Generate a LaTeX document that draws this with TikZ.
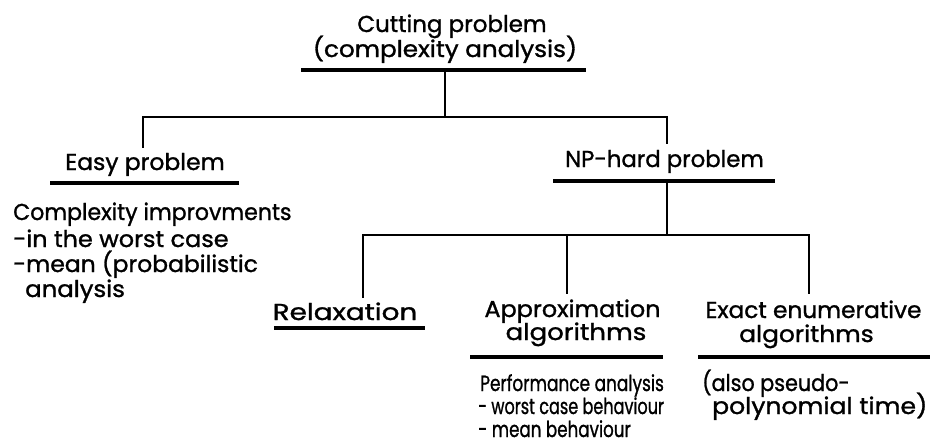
\documentclass[tikz,border=0pt]{standalone}
\usepackage{graphicx}
\usepackage{fontspec}
\setmainfont{Poppins}[FakeBold=1.2]
\newcommand{\sx}[2]{\scalebox{#1}[1]{#2}}
\begin{document}
\begin{tikzpicture}[x=1pt,y=-1pt,
  txt/.style={inner sep=0pt,anchor=base,font=\fontsize{23}{24}\selectfont},
  body/.style={inner sep=0pt,anchor=base west,font=\fontsize{23}{24}\selectfont},
  pbody/.style={body,font=\fontsize{22}{24}\selectfont},
  uline/.style={rectangle,fill=black,inner sep=0pt,minimum height=3.2pt},
  conn/.style={line width=2.2pt,line join=miter,line cap=rect}]
\useasboundingbox (0,0) rectangle (930,445);
% headings
\node[txt] (t1) at (452,32) {\sx{1.00}{Cutting problem}};
\node[txt] (t2) at (445,57) {\sx{1.07}{(complexity analysis)}};
\node[uline,minimum width=285pt] (tul) at (443.5,70) {};
\node[txt] (easy) at (145,170) {\sx{1.02}{Easy problem}};
\node[uline,minimum width=189pt] (eul) at (144.5,183) {};
\node[txt] (np) at (664.5,167) {\sx{0.99}{NP-hard problem}};
\node[uline,minimum width=222pt] (nul) at (664,181) {};
\node[txt] (rel) at (345,320) {\sx{1.21}{Relaxation}};
\node[uline,minimum width=151pt] (rul) at (349.5,328) {};
\node[txt] (ap1) at (572.5,317) {\sx{1.04}{Approximation}};
\node[txt] (ap2) at (576,340) {\sx{1.13}{algorithms}};
\node[uline,minimum width=193pt] (aul) at (566.5,357) {};
\node[txt] (ex1) at (813.5,318) {\sx{1.01}{Exact enumerative}};
\node[txt] (ex2) at (806.5,342) {\sx{1.08}{algorithms}};
\node[uline,minimum width=232pt] (xul) at (814,357) {};
% bodies
\node[body] (e1) at (13,220) {\sx{0.96}{Complexity improvments}};
\node[body] (e2) at (13,247) {\sx{1.04}{-in the worst case}};
\node[body] (e3) at (13,272) {\sx{1.02}{-mean (probabilistic}};
\node[body] (e4) at (25,297) {\sx{1.06}{analysis}};
\node[pbody] (p1) at (480,391) {\sx{0.77}{Performance analysis}};
\node[pbody] (p2) at (478,414) {\sx{0.73}{- worst case behaviour}};
\node[pbody] (p3) at (478,437) {\sx{0.76}{- mean behaviour}};
\node[body] (q1) at (702,391) {\sx{0.90}{(also pseudo-}};
\node[body] (q2) at (712,414) {\sx{1.09}{polynomial time)}};
% connectors
\coordinate (j1) at (445,117);
\coordinate (eDrop) at (143,147);
\coordinate (nDrop) at (667,143);
\draw[conn] (j1 |- tul.south) -- (j1);
\draw[conn] (eDrop) |- (nDrop |- j1) -- (nDrop);
\coordinate (j2) at (667,235);
\coordinate (rDrop) at (363,297);
\coordinate (aDrop) at (567,293);
\coordinate (xDrop) at (809,293);
\draw[conn] (j2 |- nul.south) -- (j2);
\draw[conn] (rDrop) |- (xDrop |- j2) -- (xDrop);
\draw[conn] (aDrop |- j2) -- (aDrop);
\end{tikzpicture}
\end{document}
